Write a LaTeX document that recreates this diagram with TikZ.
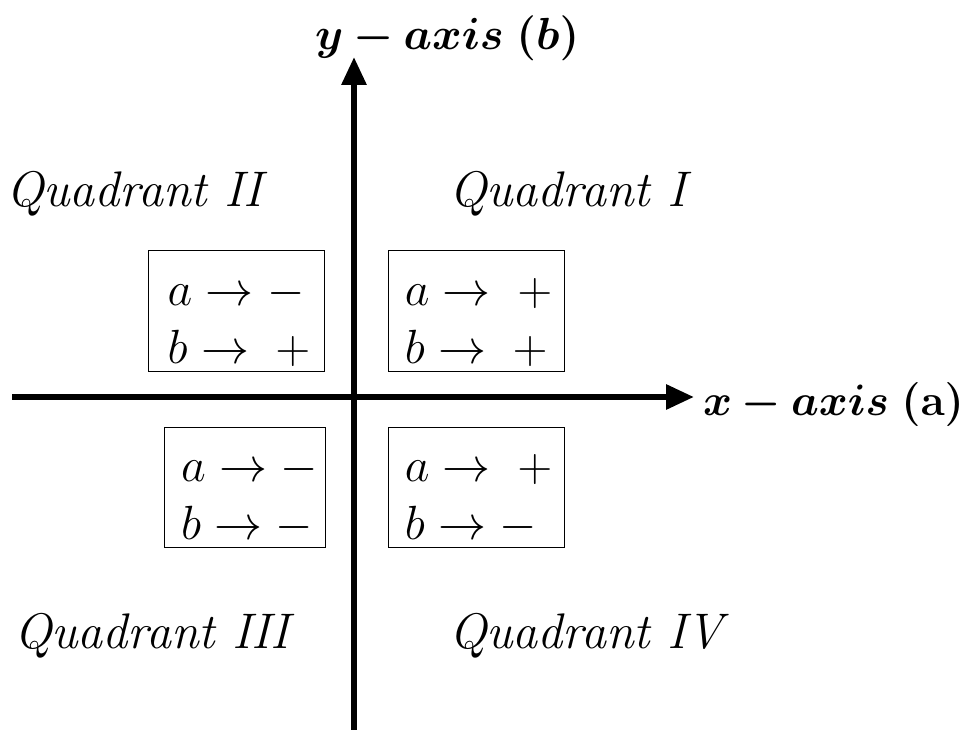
\RequirePackage{fix-cm}
\documentclass[tikz,border=0pt]{standalone}
\usepackage{bm}
\usetikzlibrary{arrows.meta}
\begin{document}
\begin{tikzpicture}[x=1pt,y=-1pt,
  axis/.style={line width=6pt,-{Triangle[length=28pt,width=24pt]}},
  signbox/.style={draw,line width=1pt,minimum width=176pt,minimum height=120pt,inner sep=0pt,align=left,font=\fontsize{48}{58}\selectfont},
  quad/.style={font=\fontsize{50}{60}\selectfont\itshape,inner sep=0pt,anchor=base west},
  axlabel/.style={inner sep=0pt,anchor=base west}]
\path[use as bounding box] (0,0) rectangle (964,730);
\coordinate (ybot) at (354,730);
\coordinate (ytop) at (354,57);
\coordinate (xleft) at (12,397);
\coordinate (xright) at (694,397);
\draw[axis] (ybot) -- (ytop);
\draw[axis] (xleft) -- (xright);
\node[axlabel,font=\fontsize{45}{54}\selectfont] (ylab) at (315,50) {$\bm{y - axis\;(b)}$};
\node[axlabel,font=\fontsize{44}{53}\selectfont] (xlab) at (703,415) {$\bm{x - axis\;(\mathrm{a})}$};
\node[quad] (q2) at (6,207) {Quadrant II};
\node[quad] (q1) at (449,207) {Quadrant I};
\node[quad] (q3) at (14,648) {Quadrant III};
\node[quad] (q4) at (449,648) {Quadrant IV};
\node[signbox] (b2) at (236,311) {\rule{0pt}{50pt}\hspace*{6pt}$a \rightarrow -$\\\rule[-4pt]{0pt}{4pt}\hspace*{6pt}$b \rightarrow \;+$};
\node[signbox] (b1) at (476.5,311) {\rule{0pt}{50pt}\hspace*{4pt}$a \rightarrow \;+$\\\rule[-4pt]{0pt}{4pt}\hspace*{4pt}$b \rightarrow \;+$};
\node[signbox,minimum width=161pt] (b3) at (244.5,487.5) {\rule{0pt}{50pt}\hspace*{10pt}$a \rightarrow -$\\\rule[-4pt]{0pt}{4pt}\hspace*{10pt}$b \rightarrow -$};
\node[signbox] (b4) at (476.5,487.5) {\rule{0pt}{50pt}\hspace*{4pt}$a \rightarrow \;+$\\\rule[-4pt]{0pt}{4pt}\hspace*{4pt}$b \rightarrow -$};
\end{tikzpicture}
\end{document}
